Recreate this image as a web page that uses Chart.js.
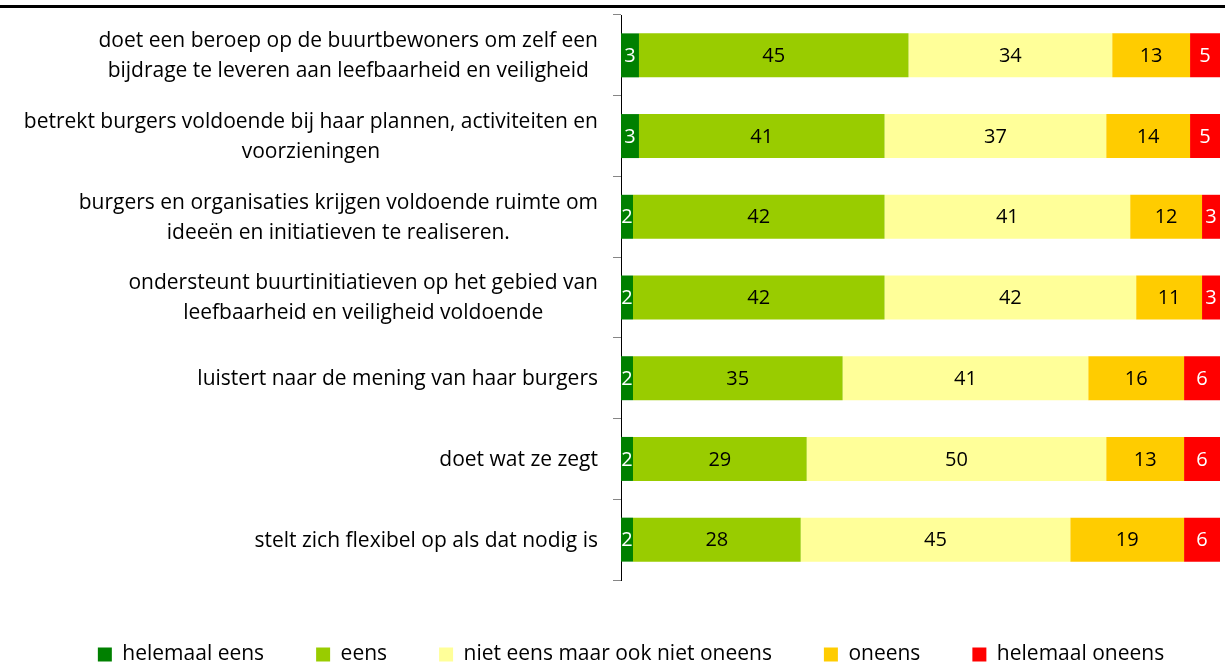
<!DOCTYPE html>
<html>
<head>
  <meta charset="utf-8">
  <title>Stellingen gemeente</title>
  <script src="https://cdn.jsdelivr.net/npm/chart.js"></script>
  <style>
    html, body { margin: 0; padding: 0; background: #fff; overflow: hidden; }
    .rule { position: absolute; left: 0; top: 5px; width: 1225px; height: 3px; background: #000; }
    .wrap { position: absolute; left: 0; top: 9px; width: 1225px; height: 666px; }
  </style>
</head>
<body>
  <div class="rule"></div>
  <div class="wrap"><canvas id="chart"></canvas></div>
  <script>
    // Stellingen (y-as)
    const categories = [
      ['doet een beroep op de buurtbewoners om zelf een', 'bijdrage te leveren aan leefbaarheid en veiligheid'],
      ['betrekt burgers voldoende bij haar plannen, activiteiten en', 'voorzieningen'],
      ['burgers en organisaties krijgen voldoende ruimte om', 'ideeën en initiatieven te realiseren.'],
      ['ondersteunt buurtinitiatieven op het gebied van', 'leefbaarheid en veiligheid voldoende'],
      'luistert naar de mening van haar burgers',
      'doet wat ze zegt',
      'stelt zich flexibel op als dat nodig is'
    ];

    // Percentages per antwoordcategorie
    const helemaalEens = [3, 3, 2, 2, 2, 2, 2];
    const eens = [45, 41, 42, 42, 35, 29, 28];
    const neutraal = [34, 37, 41, 42, 41, 50, 45];
    const oneens = [13, 14, 12, 11, 16, 13, 19];
    const helemaalOneens = [5, 5, 3, 3, 6, 6, 6];

    const seriesNames = ['helemaal eens', 'eens', 'niet eens maar ook niet oneens', 'oneens', 'helemaal oneens'];
    const seriesValues = [helemaalEens, eens, neutraal, oneens, helemaalOneens];
    const seriesColors = ['#008000', '#99CC00', '#FFFF99', '#FFCC00', '#FF0000'];
    const labelColors = ['#ffffff', '#000000', '#000000', '#000000', '#ffffff'];

    const FONT = '"Open Sans", "Liberation Sans", sans-serif';
    const PAD_LEFT = 42;

    // value labels in the middle of each segment
    const valueLabels = {
      id: 'valueLabels',
      afterDatasetsDraw(chart) {
        const ctx = chart.ctx;
        ctx.save();
        ctx.font = '20px ' + FONT;
        ctx.textAlign = 'center';
        ctx.textBaseline = 'middle';
        chart.data.datasets.forEach((ds, i) => {
          const meta = chart.getDatasetMeta(i);
          meta.data.forEach((bar, j) => {
            const x = (bar.x + bar.base) / 2;
            ctx.fillStyle = labelColors[i];
            ctx.fillText(String(ds.data[j]), x, bar.y + 1);
          });
        });
        ctx.restore();
      }
    };

    // category labels: block right aligned against the axis, lines centred in the block
    const categoryLabels = {
      id: 'categoryLabels',
      afterDraw(chart) {
        const ctx = chart.ctx;
        const yScale = chart.scales.y;
        const right = yScale.right - 8 - 15;
        const lineH = 30;
        ctx.save();
        ctx.font = '21px ' + FONT;
        ctx.fillStyle = '#000000';
        ctx.textAlign = 'center';
        ctx.textBaseline = 'middle';
        chart.data.labels.forEach((label, i) => {
          const lines = Array.isArray(label) ? label : [label];
          const blockW = Math.max(...lines.map(l => ctx.measureText(l).width));
          const cx = right - blockW / 2;
          const cy = yScale.getPixelForTick(i);
          lines.forEach((line, k) => {
            ctx.fillText(line, cx, cy + (k - (lines.length - 1) / 2) * lineH + 1);
          });
        });
        ctx.restore();
      }
    };

    new Chart(document.getElementById('chart'), {
      type: 'bar',
      data: {
        labels: categories,
        datasets: seriesNames.map((name, i) => ({
          label: name,
          data: seriesValues[i],
          backgroundColor: seriesColors[i],
          borderWidth: 0,
          barPercentage: 0.545,
          categoryPercentage: 1
        }))
      },
      options: {
        indexAxis: 'y',
        responsive: true,
        maintainAspectRatio: false,
        animation: false,
        layout: { padding: { top: 6, right: 5, left: PAD_LEFT, bottom: 0 } },
        scales: {
          x: {
            stacked: true,
            min: 0,
            max: 100,
            display: true,
            afterFit(scale) { scale.height = 12; },
            grid: { display: false },
            border: { display: false },
            ticks: { display: false }
          },
          y: {
            stacked: true,
            afterFit(scale) {
              scale.width = 621 - PAD_LEFT;
              scale.paddingTop = 0;
              scale.paddingBottom = 0;
            },
            grid: {
              display: true,
              offset: true,
              drawOnChartArea: false,
              drawTicks: true,
              tickLength: 8,
              color: '#868686'
            },
            border: { display: true, color: '#000000', width: 1 },
            ticks: { display: false }
          }
        },
        plugins: {
          legend: {
            position: 'bottom',
            labels: {
              color: '#000000',
              boxWidth: 14,
              boxHeight: 14,
              padding: 52,
              font: { family: FONT, size: 21 }
            }
          },
          tooltip: { enabled: false }
        }
      },
      plugins: [valueLabels, categoryLabels]
    });
  </script>
</body>
</html>
